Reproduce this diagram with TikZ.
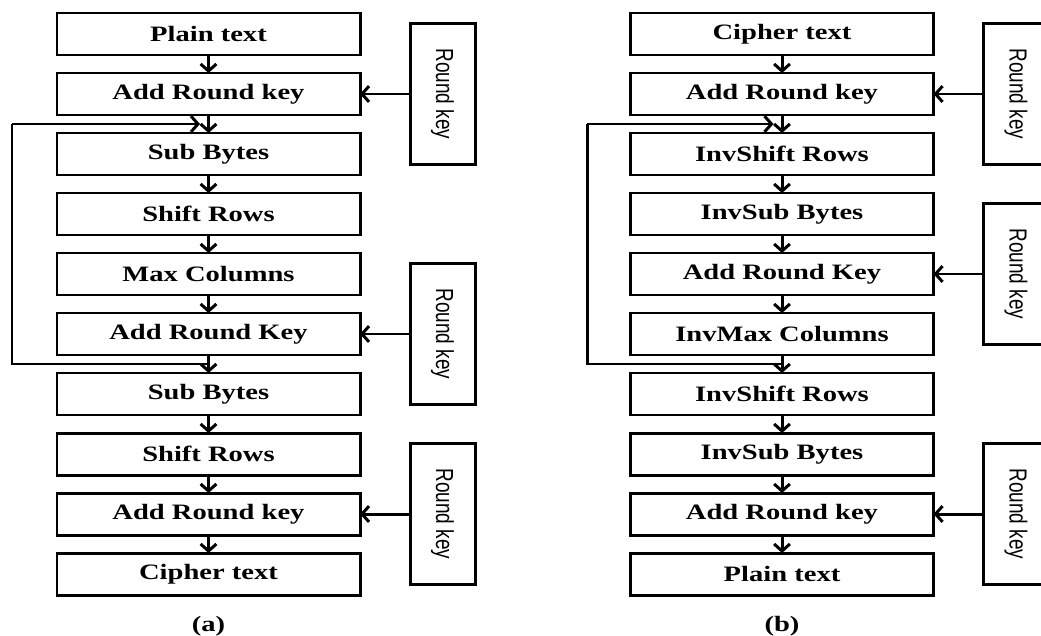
\documentclass[tikz,border=0pt]{standalone}
\usepackage{fontspec}
\usepackage{graphicx}
\setmainfont{Liberation Serif}
\newfontfamily\stagefont[FakeStretch=1.3]{Liberation Serif}
\newfontfamily\keyfont{Liberation Sans}
\newcommand{\keylabel}{\rotatebox{-90}{\scalebox{1}[1.3]{Round key}}}
\usetikzlibrary{positioning,arrows.meta,calc}
\tikzset{
  stage/.style={draw,line width=1.7pt,outer sep=0pt,inner sep=0pt,
    minimum width=6.06cm,minimum height=0.84cm,
    font=\stagefont\bfseries\fontsize{12.5}{14}\selectfont},
  keybox/.style={draw,line width=1.7pt,outer sep=0pt,inner sep=0pt,
    minimum width=1.3cm,minimum height=2.82cm,
    font=\keyfont\fontsize{10.8}{12}\selectfont},
  flow/.style={line width=1.7pt,-{Straight Barb[length=4pt,width=9pt]}},
  caption/.style={font=\stagefont\bfseries\fontsize{12.5}{14}\selectfont},
}
\begin{document}
\begin{tikzpicture}
  \useasboundingbox (0,0) rectangle (20.82,-12.7);
  \clip (0,0) rectangle (20.82,-12.7);
  % (a) encryption
  \node[stage] (a0) at (4.17,-0.68) {Plain text};
  \node[stage,below=0.36cm of a0] (a1) {Add Round key};
  \node[stage,below=0.36cm of a1] (a2) {Sub Bytes};
  \node[stage,below=0.36cm of a2] (a3) {Shift Rows};
  \node[stage,below=0.36cm of a3] (a4) {Max Columns};
  \node[stage,below=0.36cm of a4] (a5) {Add Round Key};
  \node[stage,below=0.36cm of a5] (a6) {Sub Bytes};
  \node[stage,below=0.36cm of a6] (a7) {Shift Rows};
  \node[stage,below=0.36cm of a7] (a8) {Add Round key};
  \node[stage,below=0.36cm of a8] (a9) {Cipher text};
  \node[caption,below=0.3cm of a9] (capa) {(a)};
  \node[keybox,right=1cm of a1] (ka1) {\keylabel};
  \node[keybox,right=1cm of a5] (ka5) {\keylabel};
  \node[keybox,right=1cm of a8] (ka8) {\keylabel};
  \coordinate (atop) at ($(a1.south)!0.5!(a2.north)$);
  \coordinate (abot) at ($(a5.south)!0.5!(a6.north)$);
  \coordinate (aleft) at (0.24,0);
  % (b) decryption
  \node[stage] (b0) at (15.64,-0.68) {Cipher text};
  \node[stage,below=0.36cm of b0] (b1) {Add Round key};
  \node[stage,below=0.36cm of b1] (b2) {InvShift Rows};
  \node[stage,below=0.36cm of b2] (b3) {InvSub Bytes};
  \node[stage,below=0.36cm of b3] (b4) {Add Round Key};
  \node[stage,below=0.36cm of b4] (b5) {InvMax Columns};
  \node[stage,below=0.36cm of b5] (b6) {InvShift Rows};
  \node[stage,below=0.36cm of b6] (b7) {InvSub Bytes};
  \node[stage,below=0.36cm of b7] (b8) {Add Round key};
  \node[stage,below=0.36cm of b8] (b9) {Plain text};
  \node[caption,below=0.3cm of b9] (capb) {(b)};
  \node[keybox,right=1cm of b1] (kb1) {\keylabel};
  \node[keybox,right=1cm of b4] (kb4) {\keylabel};
  \node[keybox,right=1cm of b8] (kb8) {\keylabel};
  \coordinate (btop) at ($(b1.south)!0.5!(b2.north)$);
  \coordinate (bbot) at ($(b5.south)!0.5!(b6.north)$);
  \coordinate (bleft) at (11.74,0);
  \begin{scope}[flow]
    \foreach \i [evaluate=\i as \j using int(\i+1)] in {0,...,8} {
      \draw (a\i) to (a\j);
      \draw (b\i) to (b\j);
    }
    \draw (ka1) to (a1);
    \draw (ka5) to (a5);
    \draw (ka8) to (a8);
    \draw (kb1) to (b1);
    \draw (kb4) to (b4);
    \draw (kb8) to (b8);
    \draw[-] (abot) -- (abot -| aleft) -- (atop -| aleft);
    \draw[shorten >=0.17cm] (atop -| aleft) -- (atop);
    \draw[-] (bbot) -- (bbot -| bleft) -- (btop -| bleft);
    \draw[shorten >=0.17cm] (btop -| bleft) -- (btop);
  \end{scope}
\end{tikzpicture}
\end{document}
